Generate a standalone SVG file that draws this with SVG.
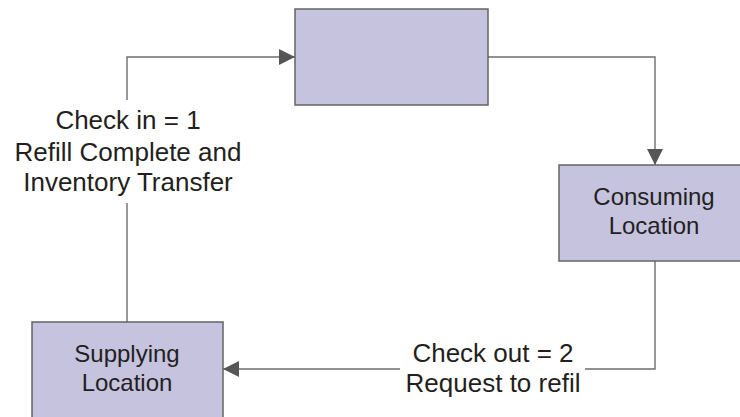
<svg xmlns="http://www.w3.org/2000/svg" width="740" height="417" viewBox="0 0 740 417">
  <style>
    .box { fill: #c6c3df; stroke: #646464; stroke-width: 1.5; }
    .wire { fill: none; stroke: #6e6e6e; stroke-width: 1.4; }
    .lbl { font-family: "Liberation Sans", Arial, sans-serif; fill: #231f20; text-anchor: middle; }
    .node { font-size: 24px; }
    .edge { font-size: 26px; }
  </style>
  <defs>
    <marker id="arrow" markerUnits="userSpaceOnUse" markerWidth="18" markerHeight="16" refX="16" refY="8" orient="auto">
      <path d="M0,0 L16,8 L0,16 Z" fill="#555555"/>
    </marker>
  </defs>
  <rect width="740" height="417" fill="#ffffff"/>

  <g id="connectors">
    <!-- top box to consuming location -->
    <polyline class="wire" points="488,57 655,57 655,165" marker-end="url(#arrow)"/>
    <!-- consuming location to supplying location -->
    <polyline class="wire" points="655,261 655,369 585,369"/>
    <polyline class="wire" points="400,369 223,369" marker-end="url(#arrow)"/>
    <!-- supplying location back to top box -->
    <polyline class="wire" points="127,322 127,203"/>
    <polyline class="wire" points="127,100 127,57 295,57" marker-end="url(#arrow)"/>
    <text class="lbl edge" x="493" y="362">Check out = 2</text>
    <text class="lbl edge" x="493" y="392">Request to refil</text>
    <text class="lbl edge" x="128" y="129">Check in = 1</text>
    <text class="lbl edge" x="128" y="161">Refill Complete and</text>
    <text class="lbl edge" x="128" y="191">Inventory Transfer</text>
  </g>

  <g id="top-node">
    <rect class="box" x="295" y="9" width="193" height="96"/>
  </g>

  <g id="consuming-location">
    <rect class="box" x="559" y="165" width="193" height="96"/>
    <text class="lbl node" x="654" y="205">Consuming</text>
    <text class="lbl node" x="654" y="234">Location</text>
  </g>

  <g id="supplying-location">
    <rect class="box" x="32" y="322" width="191" height="97"/>
    <text class="lbl node" x="127" y="362">Supplying</text>
    <text class="lbl node" x="127" y="391">Location</text>
  </g>
</svg>
